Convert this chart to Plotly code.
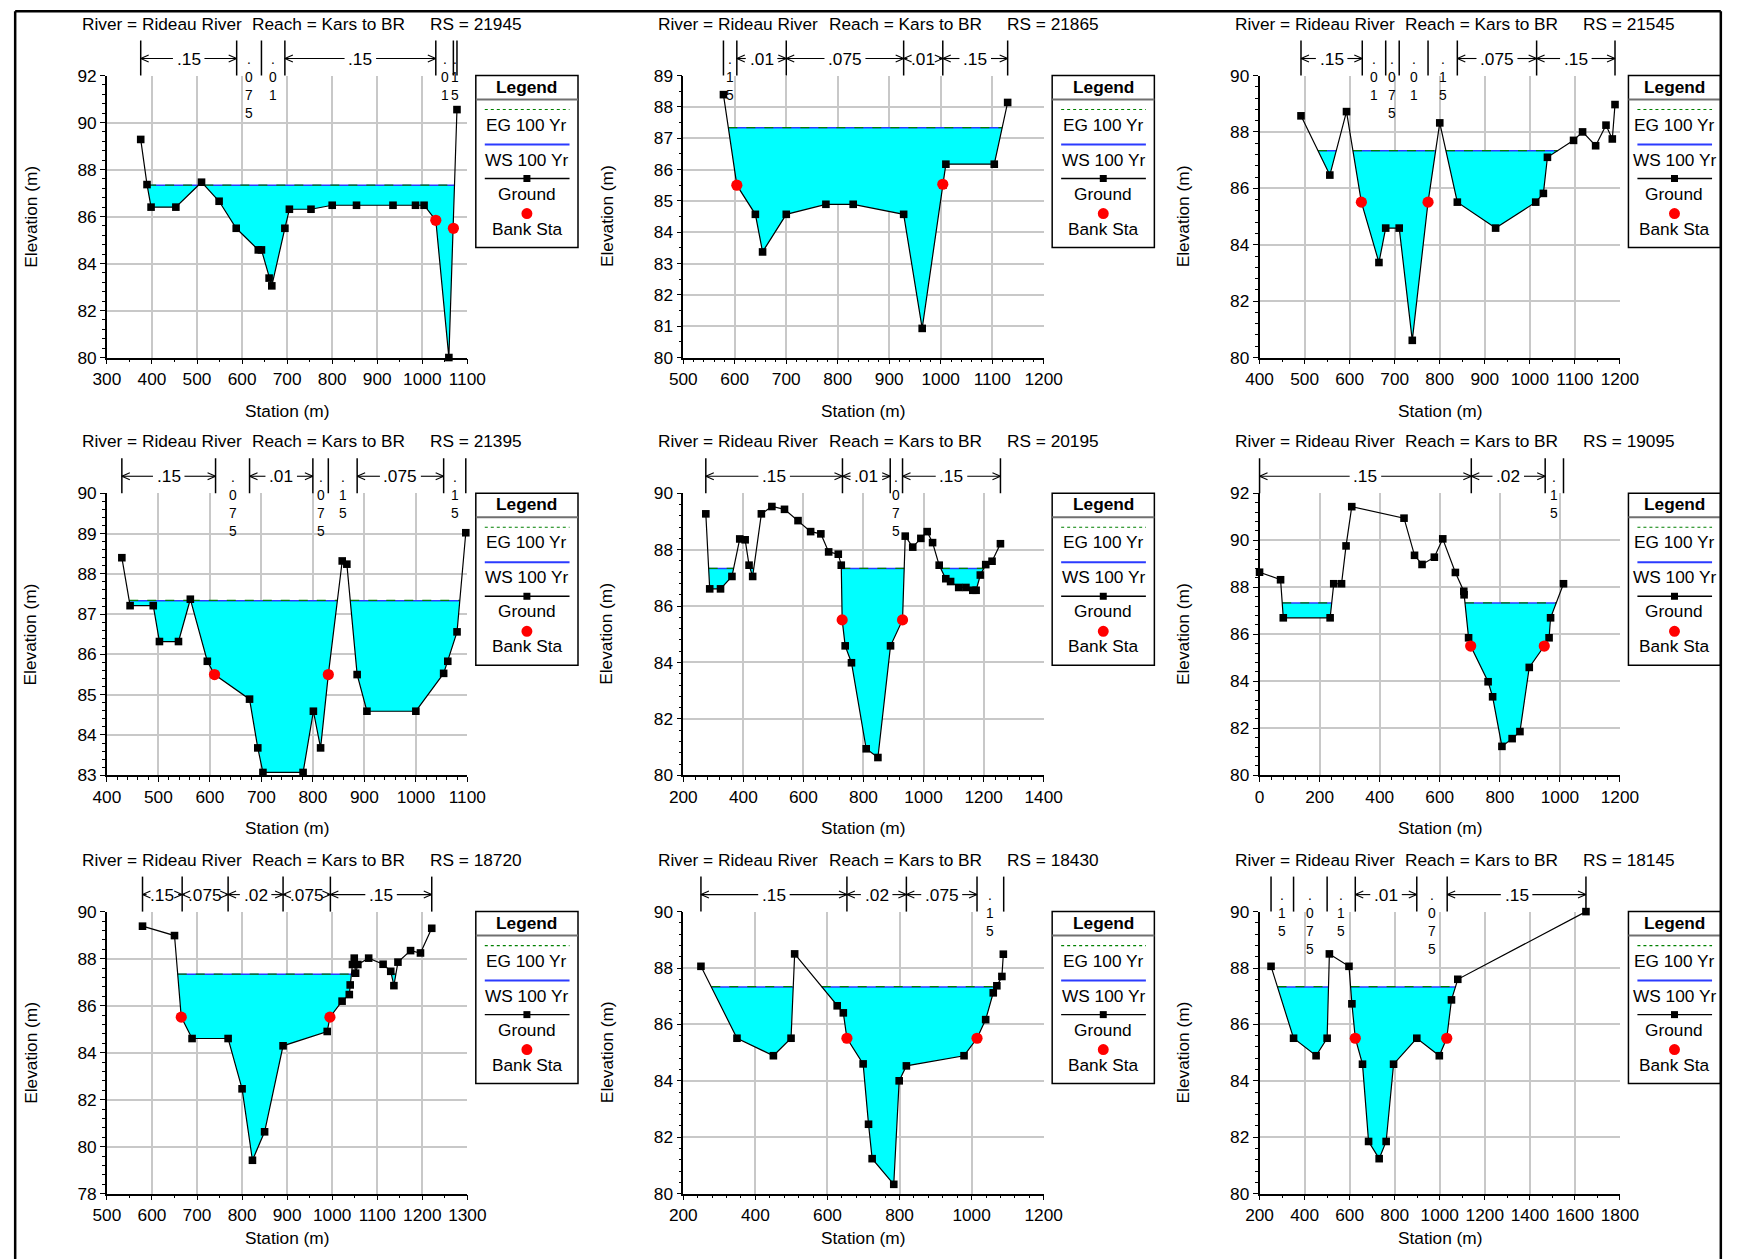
import plotly.graph_objects as go

# ---------------- data ----------------
river_name = "Rideau River"
reach_name = "Kars to BR"
rs_values = ["21945", "21865", "21545", "21395", "20195", "19095", "18720", "18430", "18145"]

ws_elev = [87.33, 87.33, 87.33, 87.33, 87.33, 87.33, 87.33, 87.33, 87.33]
eg_elev = [87.34, 87.34, 87.34, 87.34, 87.34, 87.34, 87.34, 87.34, 87.34]

g1_sta = [375, 389, 398, 453, 510, 549, 587, 636, 643, 660, 666, 695, 705, 753, 800, 854, 935, 985, 1004, 1030, 1059, 1077]
g1_elev = [89.28, 87.36, 86.40, 86.40, 87.46, 86.65, 85.50, 84.58, 84.58, 83.38, 83.05, 85.50, 86.31, 86.31, 86.48, 86.48, 86.48, 86.48, 86.48, 85.84, 80.00, 90.55]
b1_sta = [1030, 1069]
b1_elev = [85.84, 85.50]
n1_sta = [375, 588, 643, 695, 1030, 1069, 1077]
n1_val = [".15", ".075", ".01", ".15", ".01", ".15"]

g2_sta = [578, 604, 640, 654, 700, 777, 830, 928, 964, 1004, 1010, 1104, 1130]
g2_elev = [88.39, 85.50, 84.57, 83.37, 84.57, 84.89, 84.89, 84.57, 80.93, 85.50, 86.17, 86.17, 88.14]
b2_sta = [604, 1004]
b2_elev = [85.50, 85.53]
n2_sta = [578, 604, 700, 928, 1004, 1130]
n2_val = [".15", ".01", ".075", ".01", ".15"]

g3_sta = [492, 556, 593, 626, 665, 680, 710, 739, 774, 800, 839, 924, 1013, 1030, 1039, 1097, 1117, 1146, 1169, 1183, 1189]
g3_elev = [88.57, 86.47, 88.72, 85.51, 83.37, 84.59, 84.59, 80.61, 85.51, 88.32, 85.51, 84.59, 85.51, 85.82, 87.10, 87.70, 88.00, 87.51, 88.24, 87.75, 88.97]
b3_sta = [626, 774]
b3_elev = [85.51, 85.51]
n3_sta = [492, 628, 680, 710, 774, 839, 1015, 1189]
n3_val = [".15", ".01", ".075", ".01", ".15", ".075", ".15"]

g4_sta = [429, 445, 490, 502, 539, 562, 595, 609, 677, 693, 703, 781, 801, 815, 830, 857, 866, 886, 905, 1000, 1054, 1062, 1080, 1097]
g4_elev = [88.40, 87.21, 87.21, 86.32, 86.32, 87.37, 85.83, 85.50, 84.89, 83.68, 83.07, 83.07, 84.59, 83.68, 85.50, 88.32, 88.24, 85.50, 84.59, 84.59, 85.53, 85.83, 86.56, 89.02]
b4_sta = [609, 830]
b4_elev = [85.50, 85.50]
n4_sta = [429, 611, 677, 800, 830, 886, 1054, 1097]
n4_val = [".15", ".075", ".01", ".075", ".15", ".075", ".15"]

g5_sta = [275, 288, 324, 362, 388, 406, 419, 431, 460, 495, 537, 582, 624, 658, 684, 716, 726, 729, 739, 760, 809, 848, 890, 930, 939, 964, 991, 1012, 1030, 1052, 1074, 1090, 1117, 1141, 1164, 1175, 1189, 1207, 1228, 1256]
g5_elev = [89.27, 86.61, 86.61, 87.05, 88.38, 88.35, 87.45, 87.05, 89.27, 89.53, 89.43, 89.03, 88.64, 88.56, 87.92, 87.84, 87.45, 85.51, 84.59, 83.99, 80.94, 80.63, 84.59, 85.51, 88.48, 88.09, 88.40, 88.64, 88.25, 87.45, 86.97, 86.87, 86.66, 86.66, 86.56, 86.56, 87.10, 87.47, 87.59, 88.21]
b5_sta = [729, 930]
b5_elev = [85.51, 85.51]
n5_sta = [275, 730, 889, 930, 1256]
n5_val = [".15", ".01", ".075", ".15"]

g6_sta = [0, 70, 79, 235, 247, 273, 288, 307, 481, 516, 541, 582, 610, 652, 680, 681, 696, 703, 761, 776, 807, 841, 867, 898, 948, 964, 969, 1012]
g6_elev = [88.64, 88.32, 86.70, 86.70, 88.15, 88.15, 89.76, 91.43, 90.94, 89.36, 88.97, 89.28, 90.06, 88.63, 87.83, 87.68, 85.85, 85.50, 83.98, 83.34, 81.23, 81.56, 81.86, 84.59, 85.50, 85.85, 86.70, 88.15]
b6_sta = [703, 948]
b6_elev = [85.50, 85.50]
n6_sta = [0, 705, 951, 1012]
n6_val = [".15", ".02", ".15"]

g7_sta = [579, 650, 665, 689, 769, 800, 823, 850, 891, 989, 995, 1022, 1038, 1040, 1045, 1049, 1052, 1057, 1081, 1113, 1130, 1137, 1146, 1174, 1196, 1221]
g7_elev = [89.38, 88.98, 85.51, 84.60, 84.60, 82.46, 79.42, 80.63, 84.29, 84.90, 85.51, 86.19, 86.47, 86.88, 87.75, 88.02, 87.38, 87.75, 88.02, 87.76, 87.46, 86.85, 87.85, 88.34, 88.24, 89.29]
b7_sta = [665, 995]
b7_elev = [85.51, 85.51]
n7_sta = [579, 667, 769, 891, 996, 1221]
n7_val = [".15", ".075", ".02", ".075", ".15"]

g8_sta = [249, 349, 450, 499, 509, 627, 644, 654, 699, 714, 724, 784, 799, 819, 979, 1015, 1039, 1060, 1070, 1084, 1088]
g8_elev = [88.06, 85.51, 84.89, 85.51, 88.50, 86.66, 86.41, 85.51, 84.60, 82.46, 81.24, 80.33, 84.00, 84.53, 84.89, 85.51, 86.17, 87.12, 87.37, 87.70, 88.49]
b8_sta = [654, 1015]
b8_elev = [85.51, 85.51]
n8_sta = [249, 654, 819, 1015, 1089]
n8_val = [".15", ".02", ".075", ".15"]

g9_sta = [251, 351, 451, 500, 510, 597, 610, 625, 657, 684, 731, 762, 795, 898, 998, 1031, 1052, 1080, 1649]
g9_elev = [88.06, 85.51, 84.89, 85.51, 88.50, 88.06, 86.73, 85.51, 84.59, 81.85, 81.24, 81.85, 84.59, 85.51, 84.89, 85.51, 86.87, 87.60, 90.00]
b9_sta = [625, 1031]
b9_elev = [85.51, 85.51]
n9_sta = [251, 351, 500, 625, 898, 1033, 1649]
n9_val = [".15", ".075", ".15", ".01", ".075", ".15"]

# axis settings: (x range, x major, x minor, y range, y major, y minor)
axis_cfg = [
    ([300, 1100], 100, 50, [80, 92], 2, 0.4),
    ([500, 1200], 100, 20, [80, 89], 1, 0.5),
    ([400, 1200], 100, 50, [80, 90], 2, 0.4),
    ([400, 1100], 100, 20, [83, 90], 1, 0.2),
    ([200, 1400], 200, 40, [80, 90], 2, 0.4),
    ([0, 1200], 200, 40, [80, 92], 2, 0.4),
    ([500, 1300], 100, 50, [78, 90], 2, 0.4),
    ([200, 1200], 200, 40, [80, 90], 2, 0.4),
    ([200, 1800], 200, 100, [80, 90], 2, 0.4),
]

ground = [(g1_sta, g1_elev), (g2_sta, g2_elev), (g3_sta, g3_elev), (g4_sta, g4_elev), (g5_sta, g5_elev),
          (g6_sta, g6_elev), (g7_sta, g7_elev), (g8_sta, g8_elev), (g9_sta, g9_elev)]
banks = [(b1_sta, b1_elev), (b2_sta, b2_elev), (b3_sta, b3_elev), (b4_sta, b4_elev), (b5_sta, b5_elev),
         (b6_sta, b6_elev), (b7_sta, b7_elev), (b8_sta, b8_elev), (b9_sta, b9_elev)]
mannings = [(n1_sta, n1_val), (n2_sta, n2_val), (n3_sta, n3_val), (n4_sta, n4_val), (n5_sta, n5_val),
            (n6_sta, n6_val), (n7_sta, n7_val), (n8_sta, n8_val), (n9_sta, n9_val)]

# ---------------- layout helpers ----------------
FONT = "Arial, 'Liberation Sans', sans-serif"
W, H = 1741, 1259
SC, SHX, SHY = 0.984, 11.5, 9.5   # photo mapping: shown = SC * page + SH
FS = 17 / SC                       # text size
STACK_FS = 13.8                    # size of vertically stacked roughness values
COL_L = [104.7, 682.8, 1260.8]
ROW_T = [75.0, 492.7, 911.0]
PW, PH = 361.5, 282.0
CYAN = "#00FFFF"
WS_COL = "#2B3BFF"
EG_COL = "#008000"


def px(X):
    return ((X - SHX) / SC) / W


def py(Y):
    return 1 - ((Y - SHY) / SC) / H


def wet_regions(xs, ys, ws):
    regions, cur = [], None
    for k in range(len(xs)):
        x, y = xs[k], ys[k]
        if k > 0:
            x0, y0 = xs[k - 1], ys[k - 1]
            if (y0 >= ws) != (y >= ws):
                xi = x0 + (ws - y0) * (x - x0) / (y - y0)
                if cur is None:
                    cur = [(xi, ws)]
                else:
                    cur.append((xi, ws))
                    regions.append(cur)
                    cur = None
        if y < ws:
            if cur is None:
                cur = [(x, ws)]
            cur.append((x, y))
    if cur is not None:
        cur.append((cur[-1][0], ws))
        regions.append(cur)
    return regions


CHAR_W = {".": 4.7}


def text_w(s):
    return sum(CHAR_W.get(ch, 9.45) for ch in s)


fig = go.Figure()
shapes, annots = [], []
layout_axes = {}


def line(x0, y0, x1, y1, color="black", width=1.3, dash="solid"):
    shapes.append(dict(type="line", xref="paper", yref="paper", x0=px(x0), y0=py(y0), x1=px(x1), y1=py(y1),
                       line=dict(color=color, width=width, dash=dash)))


def text(x, y, s, size=FS, xanchor="center", angle=0):
    annots.append(dict(x=px(x), y=py(y), xref="paper", yref="paper", text=s, showarrow=False,
                       xanchor=xanchor, yanchor="middle", textangle=angle,
                       font=dict(family=FONT, size=size, color="black")))


RIGHT_LIMIT = SC * (W - 1.5) + SHX
BOTTOM_LIMIT = SC * (H - 11) + SHY

for i in range(9):
    r, c = divmod(i, 3)
    L, T = COL_L[c], ROW_T[r]
    R, B = L + PW, T + PH
    xr, xd, xm, yr, yd, ym = axis_cfg[i]
    sfx = "" if i == 0 else str(i + 1)
    xname, yname = "x" + sfx, "y" + sfx

    common = dict(showline=True, linecolor="black", linewidth=1.5, showgrid=True, gridcolor="#C8C8C8",
                  gridwidth=1.5, zeroline=False, ticks="outside", ticklen=5, tickwidth=1.2, tickcolor="black",
                  tickfont=dict(family=FONT, size=FS, color="black"))
    layout_axes["xaxis" + sfx] = dict(common, domain=[px(L), px(R)], range=xr, tick0=xr[0], dtick=xd,
                                      anchor=yname,
                                      minor=dict(dtick=xm, tick0=xr[0], ticks="outside", ticklen=3,
                                                 tickcolor="black", showgrid=False))
    layout_axes["yaxis" + sfx] = dict(common, domain=[py(B), py(T)], range=yr, tick0=yr[0], dtick=yd,
                                      anchor=xname,
                                      minor=dict(dtick=ym, tick0=yr[0], ticks="outside", ticklen=3,
                                                 tickcolor="black", showgrid=False))

    gx, gy = ground[i]
    ws, eg = ws_elev[i], eg_elev[i]
    regs = wet_regions(gx, gy, ws)
    fx, fy, lx, ly = [], [], [], []
    for reg in regs:
        fx += [p[0] for p in reg] + [None]
        fy += [p[1] for p in reg] + [None]
        lx += [reg[0][0], reg[-1][0], None]
        ly += [ws, ws, None]
    fig.add_trace(go.Scatter(x=fx, y=fy, mode="lines", fill="toself", fillcolor=CYAN,
                             line=dict(width=0, color=CYAN), xaxis=xname, yaxis=yname, hoverinfo="skip"))
    fig.add_trace(go.Scatter(x=lx, y=ly, mode="lines", line=dict(color=WS_COL, width=1.5),
                             xaxis=xname, yaxis=yname))
    fig.add_trace(go.Scatter(x=lx, y=[v if v is None else eg for v in ly], mode="lines",
                             line=dict(color=EG_COL, width=1.2, dash="dash"), xaxis=xname, yaxis=yname))
    fig.add_trace(go.Scatter(x=gx, y=gy, mode="lines+markers", line=dict(color="black", width=1.2),
                             marker=dict(symbol="square", size=7.6, color="black"), cliponaxis=False,
                             xaxis=xname, yaxis=yname))
    bx, by = banks[i]
    fig.add_trace(go.Scatter(x=bx, y=by, mode="markers", marker=dict(symbol="circle", size=11.2, color="#FF0000"),
                             cliponaxis=False, xaxis=xname, yaxis=yname))

    # titles
    ty = T - 52
    text(L - 27, ty, "River = " + river_name, xanchor="left")
    text(L + 144, ty, "Reach = " + reach_name, xanchor="left")
    text(L + 322.5, ty, "RS = " + rs_values[i], xanchor="left")
    text(L - 77, T + PH / 2, "Elevation (m)", angle=-90)
    text(L + PW / 2, min(B + 53, BOTTOM_LIMIT), "Station (m)")

    # Manning's n bar
    def xpix(v):
        return L + (v - xr[0]) / (xr[1] - xr[0]) * PW

    ns, nv = mannings[i]
    ay = T - 17
    for s in ns:
        line(xpix(s), T - 35, xpix(s), T, width=1.5)
    for k, lab in enumerate(nv):
        xl, xrr = xpix(ns[k]), xpix(ns[k + 1])
        seg = xrr - xl
        tw = text_w(lab)
        cx = (xl + xrr) / 2
        if seg >= tw + 10:
            g0, g1 = cx - tw / 2 - 4, cx + tw / 2 + 4
            if g0 > xl:
                line(xl, ay, g0, ay, width=1.1)
            if xrr > g1:
                line(g1, ay, xrr, ay, width=1.1)
            line(xl, ay, xl + 8, ay - 3.5, width=1.1)
            line(xl, ay, xl + 8, ay + 3.5, width=1.1)
            line(xrr, ay, xrr - 8, ay - 3.5, width=1.1)
            line(xrr, ay, xrr - 8, ay + 3.5, width=1.1)
            text(cx, ay, lab)
        else:
            step = 1.3 * STACK_FS * SC
            text(cx, ay + 1.5 + step * (len(lab) - 1) / 2, "<br>".join(lab), size=STACK_FS)

    # legend box
    LL, LT, LH = R + 8.5, T, 172
    LR = min(LL + 102.5, RIGHT_LIMIT)
    shapes.append(dict(type="rect", xref="paper", yref="paper", x0=px(LL), y0=py(LT + LH), x1=px(LR),
                       y1=py(LT), line=dict(color="black", width=1.5), fillcolor="white"))
    line(LL, LT + 24, LR, LT + 24, color="#707070", width=2)
    lcx = (LL + LR) / 2
    text(lcx, LT + 11, "<b>Legend</b>")
    line(LL + 9, LT + 34, LR - 8.5, LT + 34, color=EG_COL, width=1.2, dash="dot")
    text(lcx, LT + 49, "EG 100 Yr")
    line(LL + 9, LT + 69, LR - 8.5, LT + 69, color=WS_COL, width=2)
    text(lcx, LT + 84, "WS 100 Yr")
    line(LL + 9, LT + 103, LR - 8.5, LT + 103, color="black", width=1.3)
    shapes.append(dict(type="rect", xref="paper", yref="paper", x0=px(lcx - 3.5), x1=px(lcx + 3.5),
                       y0=py(LT + 103 + 3.5), y1=py(LT + 103 - 3.5), fillcolor="black", line=dict(width=0)))
    text(lcx, LT + 118, "Ground")
    shapes.append(dict(type="circle", xref="paper", yref="paper", x0=px(lcx - 5.5), x1=px(lcx + 5.5),
                       y0=py(LT + 138 + 5.5), y1=py(LT + 138 - 5.5), fillcolor="#FF0000", line=dict(width=0)))
    text(lcx, LT + 153, "Bank Sta")

# outer frame (kept inside the drawable page)
FLX = SC * 1.2 + SHX
FLY = SC * 1.2 + SHY
FR = SC * (W - 1.2) + SHX
line(FLX, FLY, FR, FLY, width=2.5)
line(FLX, FLY, FLX, 1300, width=2.5)
line(FR, FLY, FR, 1300, width=2.5)

fig.update_layout(width=W, height=H, margin=dict(l=0, r=0, t=0, b=0), paper_bgcolor="white",
                  plot_bgcolor="white", showlegend=False, font=dict(family=FONT, size=16, color="black"),
                  shapes=shapes, annotations=annots, **layout_axes)

fig.write_html("out.html", config={"displayModeBar": False}, post_script=(
    "document.documentElement.style.margin='0';document.documentElement.style.overflow='hidden';"
    "document.body.style.margin='0';document.body.style.overflow='hidden';"))
